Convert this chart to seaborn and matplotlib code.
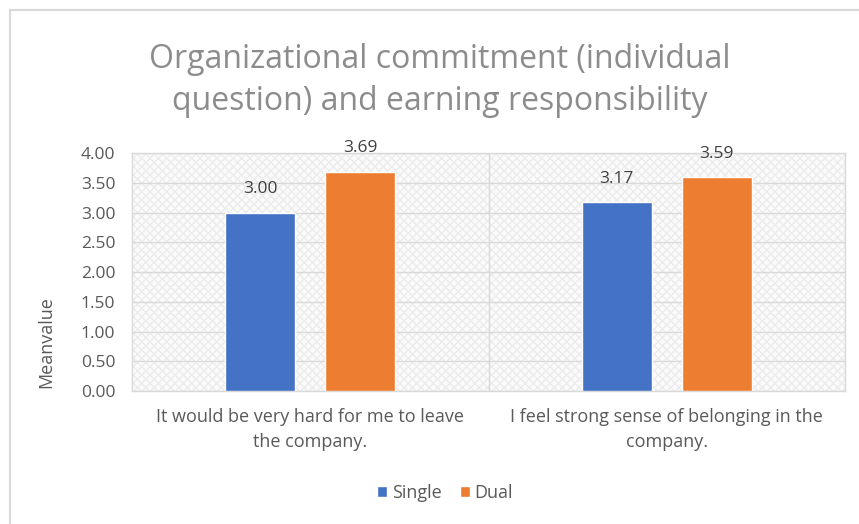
import pandas as pd
import seaborn as sns
import matplotlib.pyplot as plt
from matplotlib.lines import Line2D
from matplotlib.patches import Patch

# Données du graphique
categories = ["It would be very hard for me to leave\nthe company.",
              "I feel strong sense of belonging in the\ncompany."]
single_vals = [3.00, 3.17]
dual_vals = [3.69, 3.59]
series = ["Single", "Dual"]
yticks = [0.0, 0.5, 1.0, 1.5, 2.0, 2.5, 3.0, 3.5, 4.0]

df = pd.DataFrame({
    "question": categories * 2,
    "group": ["Single"] * 2 + ["Dual"] * 2,
    "value": single_vals + dual_vals,
})

sns.set_style("white")
plt.rcParams['font.family'] = ['Open Sans', 'DejaVu Sans']

colors = {"Single": "#4472C4", "Dual": "#ED7D31"}
txt = "#595959"

fig = plt.figure(figsize=(8.59, 5.24), dpi=100)
ax = fig.add_axes([0.1537, 0.2538, 0.830, 0.454])

# fond hachuré léger
ax.set_facecolor("#fbfbfb")
ax.patch.set_hatch("xxxx")
ax.patch.set_edgecolor("#ececec")
ax.patch.set_linewidth(0)

sns.barplot(data=df, x="question", y="value", hue="group", hue_order=series,
            palette=colors, saturation=1, width=0.56, gap=0.3, ax=ax,
            legend=False, zorder=3)

ax.set_ylim(0, 4)
ax.set_xlim(-0.5, 1.5)
ax.set_yticks(yticks)
ax.set_yticklabels([f"{t:.2f}" for t in yticks], color=txt, fontsize=12.5)
ax.tick_params(axis="x", colors=txt, labelsize=13, length=0, pad=12)
ax.tick_params(axis="y", length=0, pad=12)
for t in ax.get_xticklabels():
    t.set_color(txt)
    t.set_linespacing(1.55)

ax.grid(axis="y", color="#d9d9d9", linewidth=1, zorder=1)
ax.set_axisbelow(True)
ax.axvline(0.5, color="#d9d9d9", linewidth=1, zorder=1)
for s in ax.spines.values():
    s.set_color("#d9d9d9")
    s.set_linewidth(1)

for cont in ax.containers:
    ax.bar_label(cont, fmt="%.2f", padding=11, color="#404040", fontsize=12.5)

ax.set_xlabel("")
ax.set_ylabel("Meanvalue", color=txt, fontsize=13)
ax.yaxis.set_label_coords(-0.108, 0.206)

fig.text(0.512, 0.847, "Organizational commitment (individual\nquestion) and earning responsibility",
         ha="center", va="center", fontsize=23, color="#8c8c8c", linespacing=1.35)

handles = [Patch(facecolor=colors[s], label=s) for s in series]
fig.legend(handles=handles, loc="center", bbox_to_anchor=(0.518, 0.059), ncol=2,
           frameon=False, fontsize=13, handlelength=0.55, handleheight=0.55,
           handletextpad=0.25, columnspacing=1.0, labelcolor=txt)

# bordure du graphique
fig.add_artist(Line2D([10 / 859, 10 / 859], [0, 1 - 10 / 524], color="#d9d9d9", lw=1.5))
fig.add_artist(Line2D([10 / 859, 1], [1 - 10 / 524, 1 - 10 / 524], color="#d9d9d9", lw=1.5))

plt.savefig("out.png", dpi=100)
